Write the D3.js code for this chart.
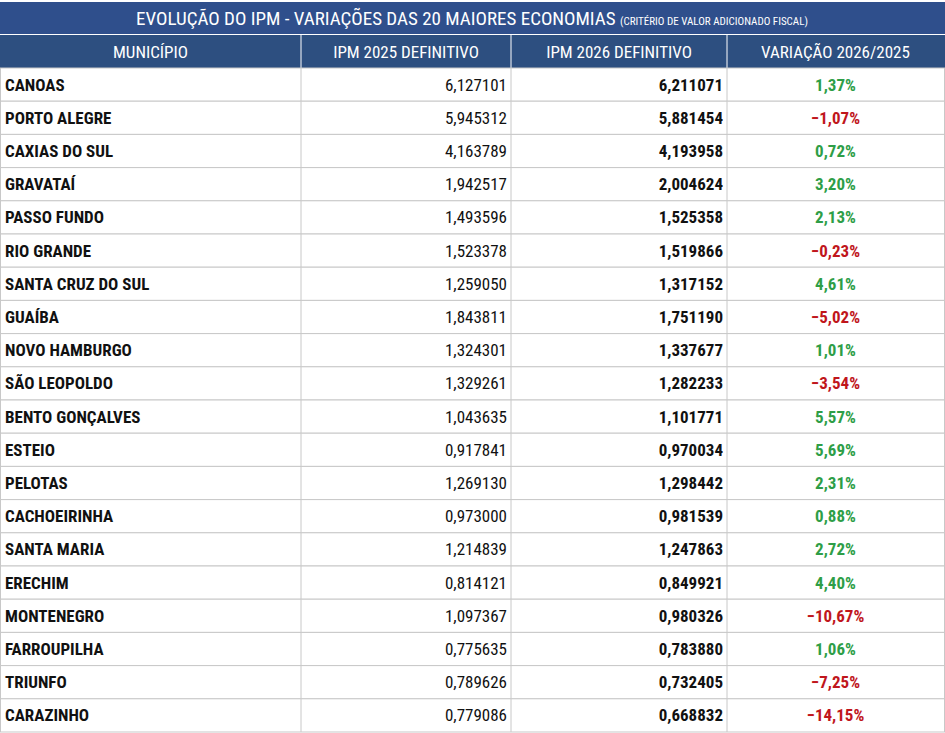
<!DOCTYPE html>
<html><head><meta charset="utf-8">
<script src="https://cdn.jsdelivr.net/npm/d3@7"></script>
<style>
body{margin:0;background:#fff;font-family:"Liberation Sans Narrow","Roboto Condensed",Roboto,sans-serif;}
</style></head>
<body><div id="chart"></div>
<script>
const municipios = ["CANOAS","PORTO ALEGRE","CAXIAS DO SUL","GRAVATAÍ","PASSO FUNDO","RIO GRANDE","SANTA CRUZ DO SUL","GUAÍBA","NOVO HAMBURGO","SÃO LEOPOLDO","BENTO GONÇALVES","ESTEIO","PELOTAS","CACHOEIRINHA","SANTA MARIA","ERECHIM","MONTENEGRO","FARROUPILHA","TRIUNFO","CARAZINHO"];
const ipm2025 = ["6,127101","5,945312","4,163789","1,942517","1,493596","1,523378","1,259050","1,843811","1,324301","1,329261","1,043635","0,917841","1,269130","0,973000","1,214839","0,814121","1,097367","0,775635","0,789626","0,779086"];
const ipm2026 = ["6,211071","5,881454","4,193958","2,004624","1,525358","1,519866","1,317152","1,751190","1,337677","1,282233","1,101771","0,970034","1,298442","0,981539","1,247863","0,849921","0,980326","0,783880","0,732405","0,668832"];
const variacao = [1.37,-1.07,0.72,3.20,2.13,-0.23,4.61,-5.02,1.01,-3.54,5.57,5.69,2.31,0.88,2.72,4.40,-10.67,1.06,-7.25,-14.15];
const colunas = ["MUNICÍPIO","IPM 2025 DEFINITIVO","IPM 2026 DEFINITIVO","VARIAÇÃO 2026/2025"];

const W = 945, H = 733;
const svg = d3.select("#chart").append("svg").attr("width", W).attr("height", H)
  .style("font-family", "'Liberation Sans Narrow','Roboto Condensed',Roboto,sans-serif");

const colX = [0, 301, 511, 727, 944];
const y = d3.scaleBand().domain(d3.range(20)).range([68, 732]);

// title
svg.append("rect").attr("x",0).attr("y",2).attr("width",W).attr("height",32).attr("fill","#2f4f8c");
const t = svg.append("text").attr("x",472).attr("y",25).attr("text-anchor","middle").attr("fill","#fff");
t.append("tspan").attr("font-size",19).text("EVOLUÇÃO DO IPM - VARIAÇÕES DAS 20 MAIORES ECONOMIAS ");
t.append("tspan").attr("font-size",11).text("(CRITÉRIO DE VALOR ADICIONADO FISCAL)");

// header
svg.append("rect").attr("x",0).attr("y",35).attr("width",W).attr("height",33).attr("fill","#2d4f80");
svg.selectAll(".hdr").data(colunas).enter().append("text")
  .attr("x",(d,i)=>(colX[i]+colX[i+1])/2).attr("y",58).attr("text-anchor","middle")
  .attr("fill","#fff").attr("font-size",17).text(d=>d);
svg.selectAll(".hsep").data(colX.slice(1,4)).enter().append("line")
  .attr("x1",d=>d).attr("x2",d=>d).attr("y1",35).attr("y2",68).attr("stroke","#fff");

// rows
const rows = svg.selectAll(".row").data(d3.range(20)).enter().append("g")
  .attr("transform", i=>`translate(0,${y(i)})`);
rows.append("rect").attr("x",0.5).attr("width",W-1).attr("height",y.bandwidth())
  .attr("fill","#fff").attr("stroke","#c8c8c8");
rows.selectAll("line").data(colX.slice(1,4)).enter().append("line")
  .attr("x1",d=>d).attr("x2",d=>d).attr("y1",0).attr("y2",y.bandwidth()).attr("stroke","#c8c8c8");
const ty = y.bandwidth()/2 + 6;
rows.append("text").attr("x",5).attr("y",ty).attr("font-size",17).attr("font-weight","bold")
  .attr("fill","#111").text(i=>municipios[i]);
rows.append("text").attr("x",colX[2]-4).attr("y",ty).attr("text-anchor","end").attr("font-size",17)
  .attr("fill","#111").text(i=>ipm2025[i]);
rows.append("text").attr("x",colX[3]-4).attr("y",ty).attr("text-anchor","end").attr("font-size",17)
  .attr("font-weight","bold").attr("fill","#111").text(i=>ipm2026[i]);
rows.append("text").attr("x",(colX[3]+colX[4])/2).attr("y",ty).attr("text-anchor","middle")
  .attr("font-size",17).attr("font-weight","bold")
  .attr("fill",i=>variacao[i]<0?"#c0161c":"#2e9e47")
  .text(i=>d3.format(".2f")(variacao[i]).replace(".",",")+"%");
</script></body></html>
